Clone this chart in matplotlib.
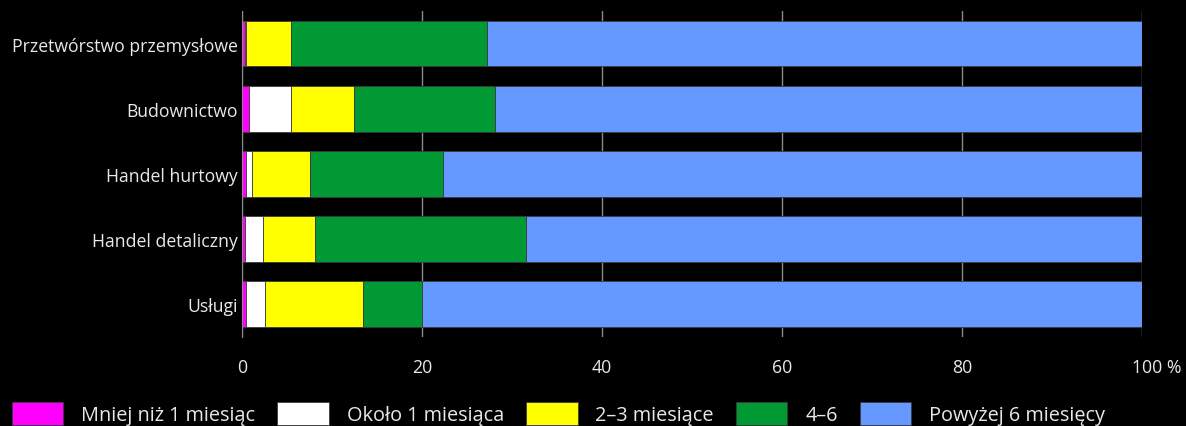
import matplotlib.pyplot as plt
from matplotlib.transforms import ScaledTranslation
import numpy as np

# branches, top to bottom
sectors = ['Przetwórstwo przemysłowe', 'Budownictwo', 'Handel hurtowy',
           'Handel detaliczny', 'Usługi']
series_names = ['Mniej niż 1 miesiąc', 'Około 1 miesiąca', '2–3 miesiące',
                '4–6', 'Powyżej 6 miesięcy']
# share of firms, %
less_1m = [0.3, 0.8, 0.5, 0.3, 0.4]
about_1m = [0.2, 4.6, 0.6, 2.0, 2.2]
m2_3 = [5.0, 7.0, 6.5, 5.8, 10.8]
m4_6 = [21.7, 15.7, 14.7, 23.5, 6.6]
over_6m = [72.8, 71.9, 77.7, 68.4, 80.0]
xticks = [0, 20, 40, 60, 80, 100]
xtick_labels = ['0', '20', '40', '60', '80', '100 %']

COLORS = ['#ff00ff', '#ffffff', '#ffff00', '#009933', '#6699ff']
TXT = '#e8e8e8'
GRID = '#8a8a8a'

plt.rcParams['font.family'] = ['Open Sans', 'DejaVu Sans']

fig = plt.figure(figsize=(11.86, 4.27), dpi=100, facecolor='black')
ax = fig.add_axes([0.204, 0.209, 0.759, 0.763])
ax.set_facecolor('black')

y = np.arange(len(sectors))
left = np.zeros(len(sectors))
handles = []
for vals, col, name in zip([less_1m, about_1m, m2_3, m4_6, over_6m], COLORS, series_names):
    h = ax.barh(y, vals, left=left, height=0.7, color=col,
                edgecolor='#3a3a3a', linewidth=0.6, label=name, zorder=3)
    handles.append(h)
    left += np.array(vals)

ax.set_xlim(0, 100)
ax.set_ylim(len(sectors) - 0.5, -0.5)
ax.set_yticks(y)
ax.set_yticklabels(sectors)
ax.set_xticks(xticks)
ax.set_xticklabels(xtick_labels)
ax.tick_params(colors=TXT, labelsize=12.7, length=0)
ax.tick_params(axis='y', pad=3)
ax.tick_params(axis='x', pad=15.5)
# the "%" hangs off to the right of the last number
last = ax.get_xticklabels()[-1]
last.set_transform(last.get_transform() + ScaledTranslation(0.145, 0, fig.dpi_scale_trans))
ax.xaxis.grid(True, color=GRID, linewidth=1, zorder=0)
for s in ['top', 'right', 'bottom']:
    ax.spines[s].set_visible(False)
ax.spines['left'].set_color(GRID)
ax.spines['left'].set_zorder(4)

fig.legend(handles=handles, labels=series_names, loc='upper left',
           bbox_to_anchor=(0.010, 0.056), ncol=5, frameon=False,
           fontsize=14.3, labelcolor=TXT, handlelength=2.6, handleheight=1.4,
           handletextpad=0.9, columnspacing=1.1, borderpad=0, borderaxespad=0)

fig.savefig('out.png', dpi=100, facecolor='black')
